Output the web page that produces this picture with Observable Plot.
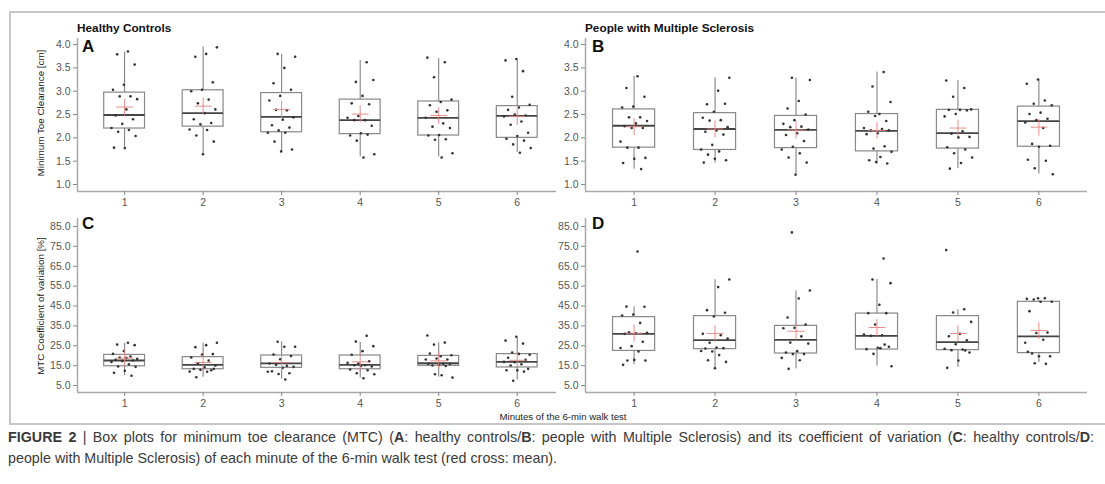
<!DOCTYPE html>
<html><head><meta charset="utf-8">
<script src="https://cdn.jsdelivr.net/npm/d3@7"></script>
<script src="https://cdn.jsdelivr.net/npm/@observablehq/plot@0.6"></script>
<style>
html,body{margin:0;padding:0;background:#fff;overflow:hidden;}
#fig{position:relative;width:1105px;height:484px;overflow:hidden;font-family:"Liberation Sans",Arial,sans-serif;}
#frame{position:absolute;left:9px;top:11px;width:1100px;height:414px;border:2px solid #c6c6c6;border-right:none;box-sizing:border-box;}
.abs{position:absolute;white-space:nowrap;}
.ptitle{font-weight:bold;font-size:11.8px;color:#111;}
.plabel{font-weight:bold;font-size:17px;color:#111;}
.ytitle{font-size:9.8px;color:#222;transform:translate(-50%,-50%) rotate(-90deg);}
.xtitle{font-size:9.6px;color:#222;transform:translate(-50%,-50%);}
.cap{font-size:14.3px;color:#3a3a3a;line-height:17px;}
.just{width:1086px;text-align:justify;text-align-last:justify;}
.plot{position:absolute;}
</style></head><body>
<div id="fig">
  <div id="frame"></div>
</div>
<script>
const minutes = [1, 2, 3, 4, 5, 6];
const mtcTicks = [1.0, 1.5, 2.0, 2.5, 3.0, 3.5, 4.0];
const cvTicks = [5, 15, 25, 35, 45, 55, 65, 75, 85];

// box stats per minute: [lowerWhisker, q1, median, q3, upperWhisker, mean]
const boxA = [
  [1.80, 2.20, 2.49, 2.97, 3.84, 2.66],
  [1.65, 2.24, 2.53, 3.02, 3.95, 2.68],
  [1.71, 2.12, 2.45, 2.96, 3.79, 2.61],
  [1.59, 2.08, 2.38, 2.82, 3.66, 2.51],
  [1.59, 2.05, 2.43, 2.78, 3.70, 2.48],
  [1.69, 2.00, 2.47, 2.68, 3.66, 2.46]
];
const boxB = [
  [1.33, 1.79, 2.26, 2.61, 3.32, 2.24],
  [1.46, 1.74, 2.19, 2.53, 3.29, 2.19],
  [1.21, 1.78, 2.17, 2.47, 3.28, 2.17],
  [1.44, 1.71, 2.15, 2.51, 3.41, 2.16],
  [1.34, 1.77, 2.10, 2.60, 3.23, 2.21],
  [1.22, 1.81, 2.36, 2.67, 3.25, 2.23]
];
const boxC = [
  [9.9, 14.7, 17.6, 20.4, 26.3, 18.8],
  [9.2, 13.2, 15.4, 19.3, 26.3, 16.6],
  [8.2, 13.9, 16.1, 20.1, 27.0, 16.6],
  [8.7, 13.2, 15.4, 20.1, 26.8, 16.9],
  [9.2, 14.9, 16.2, 19.9, 26.5, 17.4],
  [7.7, 14.1, 16.9, 20.8, 29.0, 17.7]
];
const boxD = [
  [15.4, 22.4, 31.0, 39.4, 44.6, 31.3],
  [13.4, 23.3, 27.8, 39.9, 58.2, 31.2],
  [13.4, 21.1, 28.0, 35.0, 52.6, 32.3],
  [14.7, 23.1, 30.0, 41.2, 58.3, 34.2],
  [14.1, 22.8, 26.8, 39.9, 43.1, 31.2],
  [16.6, 21.3, 29.7, 47.1, 47.9, 32.7]
];

// individual observations per minute
const ptsA = [
  [3.85, 3.79, 3.57, 3.14, 3.03, 2.89, 2.89, 2.83, 2.61, 2.48, 2.40, 2.30, 2.21, 2.17, 2.13, 2.04, 1.78, 1.79],
  [3.94, 3.80, 3.74, 3.19, 3.03, 3.00, 2.82, 2.74, 2.61, 2.53, 2.40, 2.32, 2.29, 2.18, 2.17, 2.05, 1.92, 1.65],
  [3.80, 3.74, 3.50, 3.17, 3.03, 2.90, 2.80, 2.59, 2.60, 2.44, 2.39, 2.27, 2.22, 2.16, 2.11, 2.11, 1.92, 1.75, 1.71],
  [3.62, 3.20, 3.24, 2.90, 2.74, 2.72, 2.47, 2.43, 2.38, 2.38, 2.26, 2.10, 2.05, 2.07, 1.94, 1.65, 1.58],
  [3.72, 3.62, 3.30, 2.82, 2.77, 2.70, 2.59, 2.56, 2.43, 2.31, 2.24, 2.21, 2.06, 2.05, 1.97, 1.96, 1.67, 1.58],
  [3.69, 3.66, 3.43, 2.88, 2.71, 2.65, 2.60, 2.48, 2.50, 2.46, 2.35, 2.28, 2.11, 2.04, 1.98, 1.94, 1.86, 1.78, 1.68]
];
const ptsB = [
  [3.32, 3.07, 2.88, 2.67, 2.65, 2.44, 2.44, 2.36, 2.31, 2.25, 2.21, 2.21, 1.92, 1.79, 1.79, 1.57, 1.55, 1.46, 1.33],
  [3.29, 3.01, 2.72, 2.73, 2.56, 2.43, 2.38, 2.37, 2.23, 2.16, 2.13, 2.07, 1.85, 1.75, 1.71, 1.64, 1.52, 1.55, 1.47],
  [3.29, 3.24, 2.79, 2.63, 2.50, 2.38, 2.30, 2.24, 2.23, 2.18, 2.10, 2.06, 1.93, 1.81, 1.75, 1.67, 1.58, 1.47, 1.21],
  [3.41, 3.10, 2.77, 2.51, 2.56, 2.36, 2.47, 2.21, 2.19, 2.16, 2.16, 2.10, 2.08, 1.82, 1.77, 1.70, 1.59, 1.52, 1.45, 1.48],
  [3.23, 3.07, 2.88, 2.61, 2.60, 2.60, 2.59, 2.51, 2.46, 2.14, 2.09, 2.02, 2.01, 1.80, 1.75, 1.67, 1.58, 1.46, 1.34],
  [3.25, 3.16, 2.80, 2.73, 2.70, 2.54, 2.51, 2.41, 2.38, 2.33, 2.21, 1.87, 1.83, 1.81, 1.53, 1.51, 1.35, 1.22]
];
const ptsC = [
  [26.5, 25.6, 25.3, 22.4, 20.9, 19.6, 19.1, 18.4, 18.9, 17.9, 17.6, 17.4, 16.9, 15.7, 14.6, 14.4, 12.4, 11.4, 9.9],
  [26.5, 25.3, 24.3, 20.8, 20.6, 19.1, 17.6, 16.2, 15.1, 14.2, 13.4, 12.7, 12.9, 12.0, 11.9, 9.2, 13.4],
  [27.0, 24.5, 24.5, 20.6, 19.8, 18.2, 16.1, 14.9, 15.4, 14.4, 13.9, 12.2, 11.2, 10.8, 11.9, 8.0],
  [30.0, 27.1, 24.8, 22.3, 20.5, 17.2, 16.1, 16.4, 15.2, 15.2, 14.6, 14.8, 13.1, 12.7, 11.2, 10.7, 8.7],
  [30.2, 26.6, 25.6, 20.2, 19.7, 21.1, 18.1, 18.6, 18.1, 15.9, 15.1, 15.8, 15.6, 15.9, 14.8, 10.7, 9.0, 10.2],
  [29.5, 27.6, 26.1, 21.6, 20.5, 20.9, 19.0, 17.9, 16.7, 16.9, 15.7, 15.1, 13.4, 12.7, 12.7, 12.0, 7.4]
];
const ptsD = [
  [72.4, 44.7, 44.6, 40.7, 40.2, 36.5, 31.8, 31.5, 31.3, 31.0, 27.0, 24.8, 23.9, 22.1, 17.6, 17.6, 17.9, 15.4],
  [58.3, 54.5, 42.9, 41.6, 39.7, 31.0, 30.3, 26.5, 28.6, 24.1, 23.6, 23.8, 22.1, 22.4, 20.3, 17.7, 16.9, 13.7],
  [82.0, 52.8, 48.8, 39.2, 35.7, 34.0, 33.8, 29.7, 26.6, 26.1, 22.3, 21.6, 20.8, 20.8, 18.9, 17.7, 13.4],
  [68.9, 58.3, 56.5, 45.6, 41.4, 41.4, 35.7, 30.7, 30.3, 30.0, 24.5, 24.0, 23.3, 25.6, 20.9, 14.7, 23.8],
  [73.1, 43.4, 41.7, 37.0, 31.0, 29.8, 27.8, 25.8, 23.5, 23.1, 22.8, 21.6, 17.6, 13.9, 22.6],
  [48.9, 48.6, 48.9, 48.3, 47.1, 47.1, 42.4, 31.7, 31.4, 26.5, 28.0, 21.1, 19.7, 19.7, 22.0, 15.9, 16.2]
];

const fig = document.getElementById("fig");
const FONT = "'Liberation Sans', Arial, sans-serif";

function panel(cfg) {
  const boxes = minutes.map((m, i) => {
    const [lo, q1, med, q3, hi, mean] = cfg.box[i];
    return {m, lo, q1, med, q3, hi, mean};
  });
  const pts = [];
  cfg.pts.forEach((arr, i) => arr.forEach((v, k) => {
    const j = (((k + 1) * 0.6180339887 + i * 0.37) % 1 - 0.5) * 0.36;
    pts.push({x: minutes[i] + j, y: v});
  }));
  const hw = 0.26;
  const svg = Plot.plot({
    width: cfg.width, height: cfg.height,
    marginLeft: cfg.mL, marginRight: cfg.mR, marginTop: cfg.mT, marginBottom: cfg.mB,
    style: {background: "transparent", fontFamily: FONT, fontSize: "10.5px", color: "#555", overflow: "visible"},
    x: {type: "linear", domain: cfg.xDomain},
    y: {domain: cfg.yDomain},
    marks: [
      Plot.ruleY([cfg.yDomain[0]], {stroke: "#a8a8a8", strokeWidth: 1.5}),
      Plot.ruleX([cfg.xDomain[0]], {stroke: "#a8a8a8", strokeWidth: 1.5}),
      Plot.axisX(minutes, {tickSize: 4, tickPadding: 3, stroke: "#888", fill: "#555", label: null, tickFormat: d => String(d)}),
      Plot.axisY(cfg.yTicks, {tickSize: 4, tickPadding: 3, stroke: "#888", fill: "#555", label: null, tickFormat: d => d.toFixed(1)}),
      Plot.ruleX(boxes, {x: "m", y1: "lo", y2: "q1", stroke: "#777", strokeWidth: 1}),
      Plot.ruleX(boxes, {x: "m", y1: "q3", y2: "hi", stroke: "#777", strokeWidth: 1}),
      Plot.rect(boxes, {x1: d => d.m - hw, x2: d => d.m + hw, y1: "q1", y2: "q3", fill: "none", stroke: "#888", strokeWidth: 1.2}),
      Plot.ruleY(boxes, {y: "med", x1: d => d.m - hw, x2: d => d.m + hw, stroke: "#444", strokeWidth: 1.8}),
      Plot.dot(pts, {x: "x", y: "y", r: 1.3, fill: "#333", stroke: "none"}),
      Plot.dot(boxes, {x: "m", y: "mean", symbol: "plus", r: 5.5, stroke: "#e5807f", strokeWidth: 0.9})
    ]
  });
  svg.classList.add("plot");
  svg.style.left = cfg.left + "px";
  svg.style.top = cfg.top + "px";
  fig.appendChild(svg);
}

panel({left: 0, top: 30, width: 560, height: 181, mL: 77, mR: 4, mT: 8, mB: 20,
  xDomain: [0.4, 6.5], yDomain: [0.85, 4.13], yTicks: mtcTicks, box: boxA, pts: ptsA});
panel({left: 550, top: 30, width: 550, height: 181, mL: 35, mR: 13, mT: 8, mB: 20,
  xDomain: [0.4, 6.6], yDomain: [0.85, 4.13], yTicks: mtcTicks, box: boxB, pts: ptsB});
panel({left: 0, top: 210, width: 560, height: 202, mL: 77, mR: 4, mT: 8, mB: 20,
  xDomain: [0.4, 6.5], yDomain: [1.5, 89.0], yTicks: cvTicks, box: boxC, pts: ptsC});
panel({left: 550, top: 210, width: 550, height: 202, mL: 35, mR: 13, mT: 8, mB: 20,
  xDomain: [0.4, 6.6], yDomain: [1.5, 89.0], yTicks: cvTicks, box: boxD, pts: ptsD});

function txt(cls, html, left, top) {
  const d = document.createElement("div");
  d.className = "abs " + cls;
  d.innerHTML = html;
  d.style.left = left + "px";
  d.style.top = top + "px";
  fig.appendChild(d);
  return d;
}
txt("ptitle", "Healthy Controls", 77, 21);
txt("ptitle", "People with Multiple Sclerosis", 585, 21);
txt("plabel", "A", 82, 37);
txt("plabel", "B", 592, 37);
txt("plabel", "C", 82, 214);
txt("plabel", "D", 592, 214);
txt("ytitle", "Minimum Toe Clearance [cm]", 40, 113);
txt("ytitle", "MTC Coefficient of variation [%]", 40, 306);
txt("xtitle", "Minutes of the 6-min walk test", 563, 416);
txt("cap just", "<b>FIGURE 2</b> | Box plots for minimum toe clearance (MTC) (<b>A</b>: healthy controls/<b>B</b>: people with Multiple Sclerosis) and its coefficient of variation (<b>C</b>: healthy controls/<b>D</b>:", 8, 429);
txt("cap", "people with Multiple Sclerosis) of each minute of the 6-min walk test (red cross: mean).", 8, 450);
</script>
</body></html>
